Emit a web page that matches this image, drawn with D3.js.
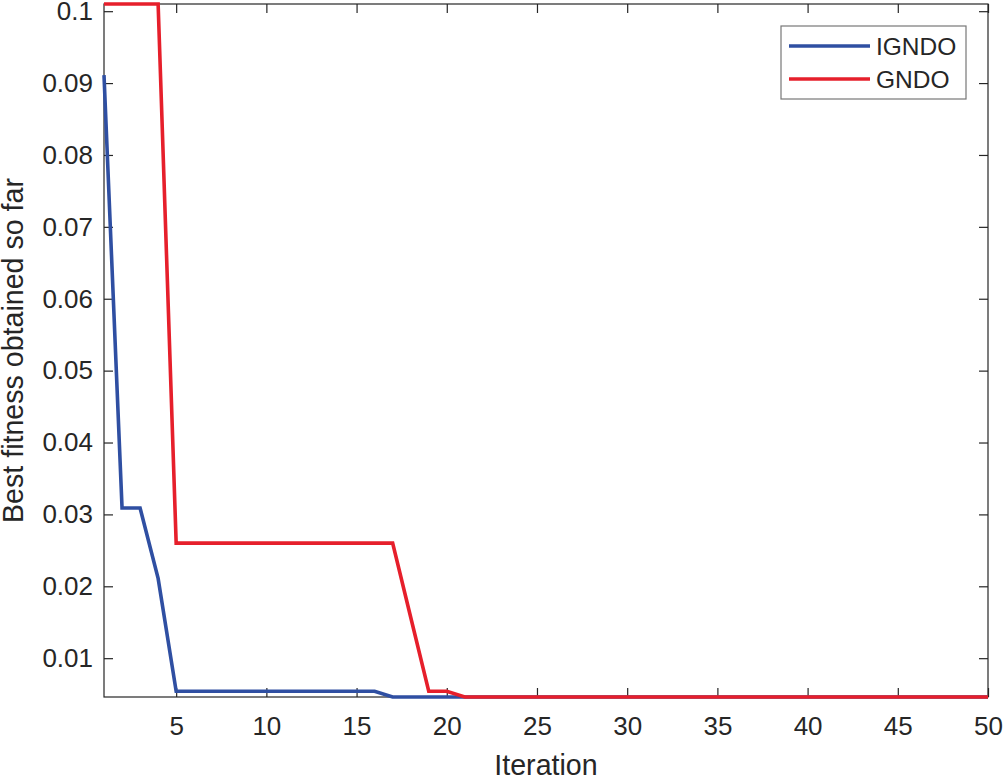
<!DOCTYPE html>
<html>
<head>
<meta charset="utf-8">
<script src="https://cdn.jsdelivr.net/npm/d3@7"></script>
<style>
  body { margin: 0; background: #fff; }
  svg { display: block; }
  text { font-family: "Liberation Sans", Arial, Helvetica, sans-serif; fill: #262626; }
</style>
</head>
<body>
<script>
// iteration numbers and best fitness per iteration
var iterations = [1,2,3,4,5,6,7,8,9,10,11,12,13,14,15,16,17,18,19,20,21,22,23,24,25,
                  26,27,28,29,30,31,32,33,34,35,36,37,38,39,40,41,42,43,44,45,46,47,48,49,50];

var igndo = [0.0911, 0.0309, 0.0309, 0.0211, 0.0054, 0.0054, 0.0054, 0.0054, 0.0054, 0.0054,
             0.0054, 0.0054, 0.0054, 0.0054, 0.0054, 0.0054, 0.0046, 0.0046, 0.0046, 0.0046,
             0.0046, 0.0046, 0.0046, 0.0046, 0.0046, 0.0046, 0.0046, 0.0046, 0.0046, 0.0046,
             0.0046, 0.0046, 0.0046, 0.0046, 0.0046, 0.0046, 0.0046, 0.0046, 0.0046, 0.0046,
             0.0046, 0.0046, 0.0046, 0.0046, 0.0046, 0.0046, 0.0046, 0.0046, 0.0046, 0.0046];

var gndo = [0.101, 0.101, 0.101, 0.101, 0.026, 0.026, 0.026, 0.026, 0.026, 0.026,
            0.026, 0.026, 0.026, 0.026, 0.026, 0.026, 0.026, 0.0157, 0.0054, 0.0054,
            0.0046, 0.0046, 0.0046, 0.0046, 0.0046, 0.0046, 0.0046, 0.0046, 0.0046, 0.0046,
            0.0046, 0.0046, 0.0046, 0.0046, 0.0046, 0.0046, 0.0046, 0.0046, 0.0046, 0.0046,
            0.0046, 0.0046, 0.0046, 0.0046, 0.0046, 0.0046, 0.0046, 0.0046, 0.0046, 0.0046];

var xTicks = [5, 10, 15, 20, 25, 30, 35, 40, 45, 50];
var yTicks = [0.01, 0.02, 0.03, 0.04, 0.05, 0.06, 0.07, 0.08, 0.09, 0.1];

var seriesNames = ["IGNDO", "GNDO"];
var seriesColors = ["#2f4fa2", "#e61f2b"];

var width = 1005,
    height = 778;

var margin = {top: 4, right: 17, bottom: 81, left: 104};
var w = width - margin.left - margin.right,
    h = height - margin.top - margin.bottom;

var svg = d3.select("body").append("svg")
    .attr("width", width)
    .attr("height", height);

var g = svg.append("g")
    .attr("transform", "translate(" + margin.left + "," + margin.top + ")");

var x = d3.scaleLinear().domain([1, 50]).range([0, w]);
var y = d3.scaleLinear().domain([0.0046, 0.101]).range([h, 0]);

var axisColor = "#262626";

// axes (ticks point inwards like matlab)
var xAxis = g.append("g")
    .attr("transform", "translate(0," + h + ")")
    .call(d3.axisBottom(x).tickValues(xTicks).tickSizeInner(-9).tickSizeOuter(0).tickPadding(20));

var xAxisTop = g.append("g")
    .call(d3.axisTop(x).tickValues(xTicks).tickSizeInner(-9).tickSizeOuter(0).tickFormat(""));

var yAxis = g.append("g")
    .call(d3.axisLeft(y).tickValues(yTicks).tickSizeInner(-9).tickSizeOuter(0).tickPadding(11)
      .tickFormat(function(d) { return String(d); }));

var yAxisRight = g.append("g")
    .attr("transform", "translate(" + w + ",0)")
    .call(d3.axisRight(y).tickValues(yTicks).tickSizeInner(-9).tickSizeOuter(0).tickFormat(""));

[xAxis, xAxisTop, yAxis, yAxisRight].forEach(function(a) {
  a.select(".domain").remove();
  a.selectAll(".tick line").attr("stroke", axisColor).attr("stroke-width", 1.2);
  a.selectAll(".tick text")
    .style("font-size", "26px")
    .attr("fill", axisColor);
});

g.append("rect")
    .attr("x", 0).attr("y", 0)
    .attr("width", w).attr("height", h)
    .attr("fill", "none")
    .attr("stroke", axisColor)
    .attr("stroke-width", 1.2);

// lines
var line = d3.line()
    .x(function(d, i) { return x(iterations[i]); })
    .y(function(d) { return y(d); });

[igndo, gndo].forEach(function(s, k) {
  g.append("path")
    .datum(s)
    .attr("d", line)
    .attr("fill", "none")
    .attr("stroke", seriesColors[k])
    .attr("stroke-width", 3.6)
    .attr("stroke-linejoin", "miter");
});

// axis labels
svg.append("text")
    .attr("x", margin.left + w / 2)
    .attr("y", 775)
    .attr("text-anchor", "middle")
    .style("font-size", "28.6px")
    .text("Iteration");

svg.append("text")
    .attr("transform", "translate(23," + (margin.top + h / 2) + ") rotate(-90)")
    .attr("text-anchor", "middle")
    .style("font-size", "28.6px")
    .text("Best fitness obtained so far");

// legend
var legend = svg.append("g").attr("transform", "translate(781,26)");

legend.append("rect")
    .attr("width", 185).attr("height", 73)
    .attr("fill", "#fff")
    .attr("stroke", "#777")
    .attr("stroke-width", 1.2);

seriesNames.forEach(function(name, i) {
  var ly = 20 + i * 33;
  legend.append("line")
    .attr("x1", 8).attr("x2", 89)
    .attr("y1", ly).attr("y2", ly)
    .attr("stroke", seriesColors[i])
    .attr("stroke-width", 3.6);
  legend.append("text")
    .attr("x", 95)
    .attr("y", ly + 9)
    .style("font-size", "24.5px")
    .text(name);
});
</script>
</body>
</html>
